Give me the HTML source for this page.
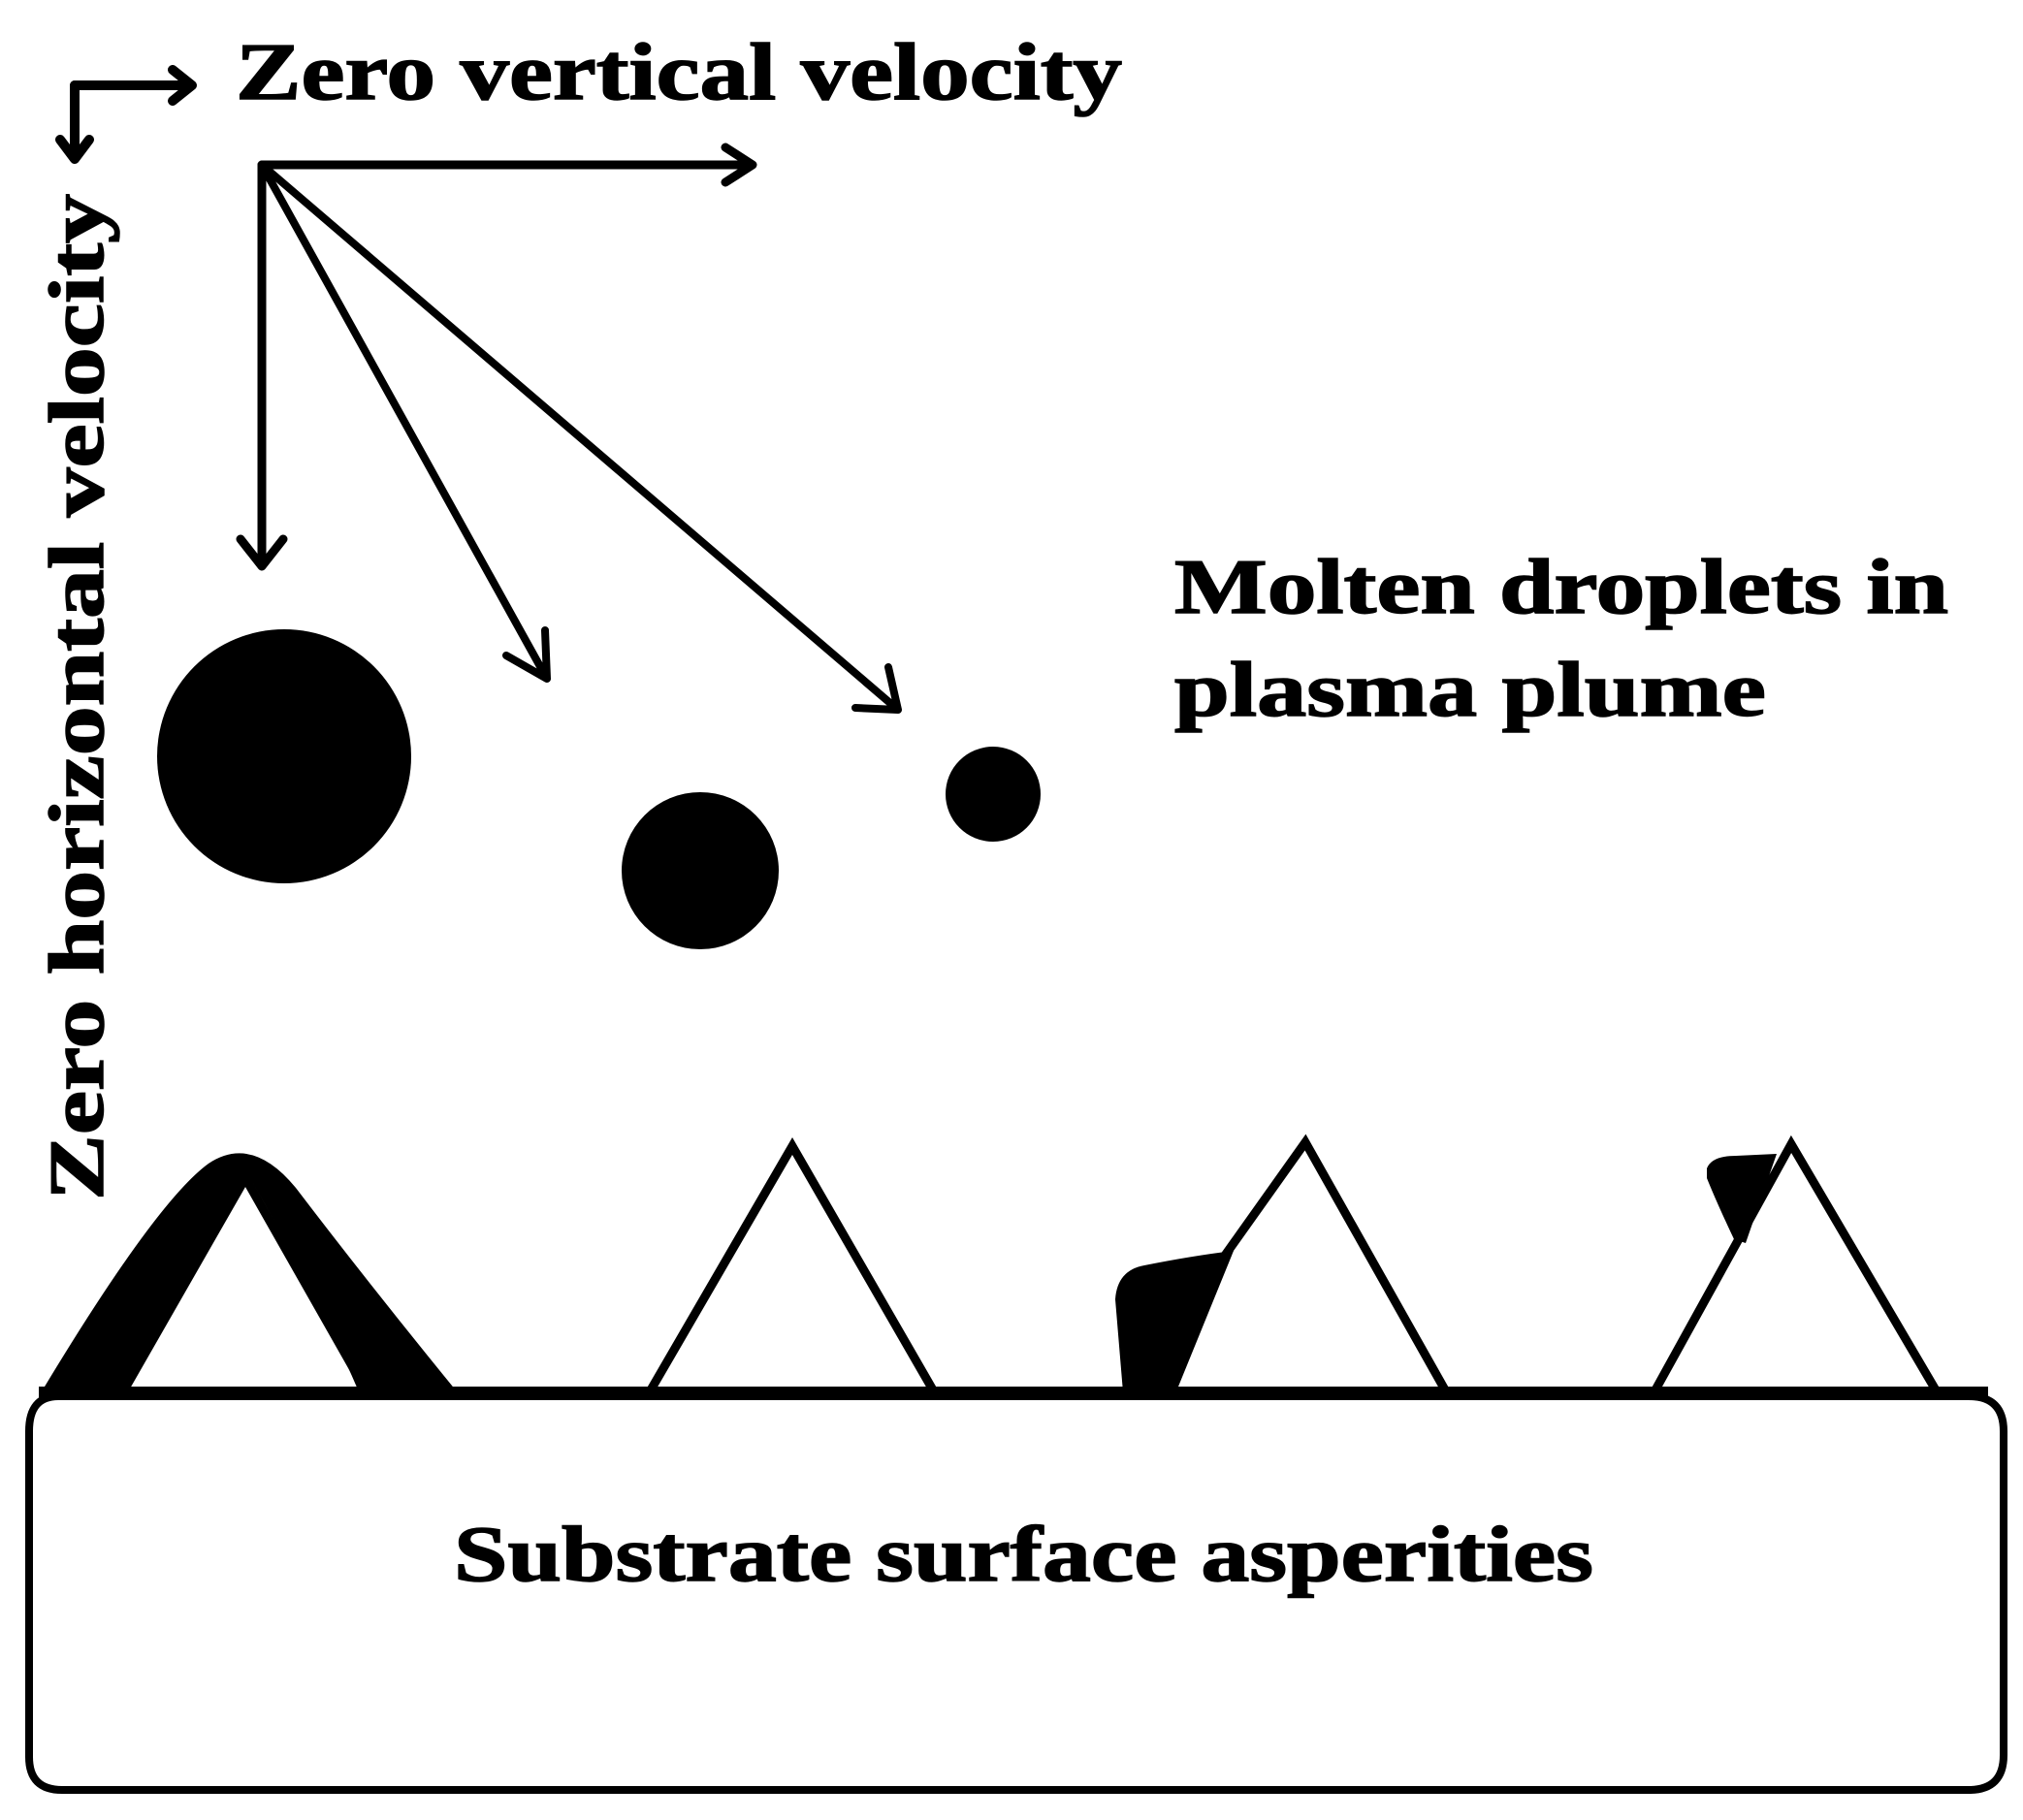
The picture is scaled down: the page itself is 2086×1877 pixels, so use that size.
<!DOCTYPE html>
<html><head><style>html,body{margin:0;padding:0;background:#fff}svg{display:block}</style></head>
<body>
<svg width="2086" height="1877" viewBox="0 0 2086 1877" xmlns="http://www.w3.org/2000/svg">
<g stroke="#000" fill="none" stroke-linecap="round" stroke-linejoin="round">
  <path d="M77 88 H198 M178 72 L198 88 L178 104" stroke-width="10"/>
  <path d="M77 88 V164 M62 144 L77 164 L92 144" stroke-width="10"/>
  <path d="M270 170 H776 M748 152 L776 170 L748 188" stroke-width="9"/>
  <path d="M270 170 V584 M248 556 L270 584 L292 556" stroke-width="9"/>
  <path d="M270 170 L564 700 M562 650 L564 700 L522 676" stroke-width="8"/>
  <path d="M270 170 L926 732 M916 688 L926 732 L882 730" stroke-width="8"/>
</g>
<circle cx="293" cy="780" r="131" fill="#000"/>
<circle cx="722" cy="898" r="81" fill="#000"/>
<circle cx="1024" cy="819" r="49" fill="#000"/>
<path d="M60 1440 H2030 Q2066 1440 2066 1476 V1810 Q2066 1846 2030 1846 H64 Q30 1846 30 1812 V1476 Q30 1440 60 1440 Z" fill="none" stroke="#000" stroke-width="8"/>
<rect x="40" y="1430" width="2010" height="14" fill="#000"/>
<path d="M40 1440 Q160 1240 215 1200 Q260 1170 305 1225 Q385 1330 475 1440 L372 1440 Q325 1330 256 1212 L122 1440 Z" fill="#000"/>
<g stroke="#000" fill="none" stroke-width="9" stroke-linejoin="miter">
  <path d="M126 1437 L253 1215 L379 1437"/>
  <path d="M669 1437 L817 1182 L964 1437"/>
  <path d="M1162 1437 L1346 1178 L1492 1437"/>
  <path d="M1705 1437 L1847 1180 L1998 1437"/>
</g>
<path d="M1158 1436 L1150 1340 Q1152 1310 1180 1305 Q1230 1295 1272 1290 L1215 1430 Z" fill="#000"/>
<path d="M1760 1205 Q1765 1192 1790 1192 L1832 1190 L1800 1282 L1788 1278 Q1770 1240 1760 1215 Z" fill="#000"/>
<g font-family="'Liberation Serif', serif" font-weight="bold" fill="#000" stroke="#000" stroke-width="1.5">
  <text x="243" y="102" font-size="84" textLength="914" lengthAdjust="spacingAndGlyphs">Zero vertical velocity</text>
  <text transform="translate(106 1238) rotate(-90)" font-size="80" textLength="1038" lengthAdjust="spacingAndGlyphs">Zero horizontal velocity</text>
  <text x="1211" y="632" font-size="80" textLength="798" lengthAdjust="spacingAndGlyphs">Molten droplets in</text>
  <text x="1211" y="738" font-size="80" textLength="610" lengthAdjust="spacingAndGlyphs">plasma plume</text>
  <text x="468" y="1630" font-size="82" textLength="1175" lengthAdjust="spacingAndGlyphs">Substrate surface asperities</text>
</g>
</svg>
</body></html>
